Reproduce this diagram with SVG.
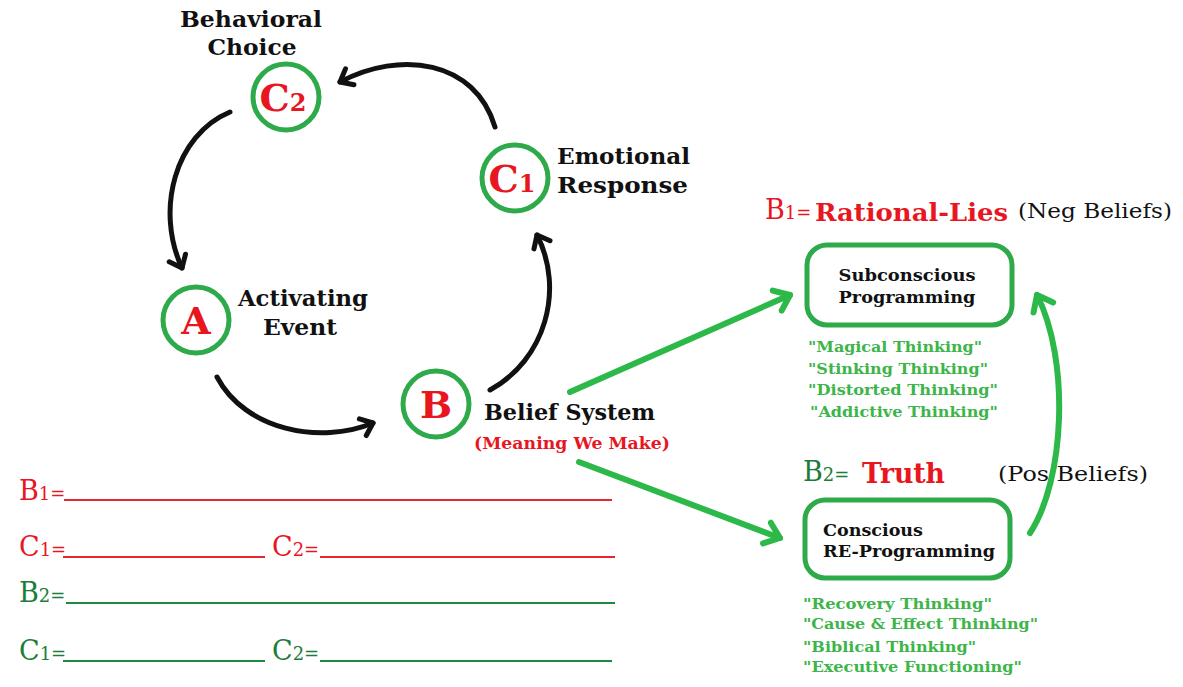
<svg xmlns="http://www.w3.org/2000/svg" width="1183" height="687" viewBox="0 0 1183 687">
<style>
.circ{fill:#fff;stroke:#2eaa4a;stroke-width:5}
.box{fill:#fff;stroke:#2eaa4a;stroke-width:5}
.let{font-family:"DejaVu Serif","Liberation Serif",serif;font-weight:bold;fill:#e8161f;text-anchor:middle}
.hd{font-family:"DejaVu Serif","Liberation Serif",serif;font-weight:bold;fill:#e8161f}
.lbl{font-family:"DejaVu Serif","Liberation Serif",serif;font-weight:bold;fill:#111;font-size:22.5px}
.boxt{font-family:"DejaVu Serif","Liberation Serif",serif;font-weight:bold;fill:#111;font-size:17.5px}
.lst{font-family:"DejaVu Serif","Liberation Serif",serif;font-weight:bold;fill:#3db54a;font-size:15px}
.reg{font-family:"DejaVu Serif","Liberation Serif",serif}
.red{fill:#e8161f}
.dg{fill:#1c7d3a}
.blk{fill:#111}
.mid{text-anchor:middle}
.blkarc{fill:none;stroke:#111;stroke-width:5;stroke-linecap:round}
.grn{fill:none;stroke:#2db84a;stroke-width:6;stroke-linecap:round}
.lnr{stroke:#e8262e;stroke-width:2}
.lng{stroke:#1c8a40;stroke-width:2}
</style>
<defs>
<marker id="ab" markerUnits="userSpaceOnUse" markerWidth="30" markerHeight="30" refX="15" refY="15" orient="auto">
<path d="M4 6 L15 15 L4 24" fill="none" stroke="#111" stroke-width="5" stroke-linecap="round" stroke-linejoin="round"/>
</marker>
<marker id="ag" markerUnits="userSpaceOnUse" markerWidth="34" markerHeight="34" refX="17" refY="17" orient="auto">
<path d="M3 6 L17 17 L3 28" fill="none" stroke="#2db84a" stroke-width="6" stroke-linecap="round" stroke-linejoin="round"/>
</marker>
</defs>
<rect width="1183" height="687" fill="#fff"/>

<g id="connectors">
<path class="blkarc" d="M495 127 C475 60 400 50 340 82" marker-end="url(#ab)"/>
<path class="blkarc" d="M230 112 C175 135 155 210 182 268" marker-end="url(#ab)"/>
<path class="blkarc" d="M217 377 C245 430 320 445 373 423" marker-end="url(#ab)"/>
<path class="blkarc" d="M490 390 C545 360 565 290 537 235" marker-end="url(#ab)"/>
<path class="grn" d="M570 392 L790 295" marker-end="url(#ag)"/>
<path class="grn" d="M579 462 L780 538" marker-end="url(#ag)"/>
<path class="grn" d="M1030 533 C1065 480 1070 360 1037 295" marker-end="url(#ag)"/>
</g>

<g id="node-C2">
<circle class="circ" cx="286" cy="97" r="33"/>
<text class="let" x="283" y="111" font-size="38">C<tspan font-size="24">2</tspan></text>
<text class="lbl mid" x="251" y="27" textLength="142" lengthAdjust="spacingAndGlyphs">Behavioral</text>
<text class="lbl mid" x="252" y="55" textLength="89" lengthAdjust="spacingAndGlyphs">Choice</text>
</g>

<g id="node-C1">
<circle class="circ" cx="515" cy="178" r="33"/>
<text class="let" x="512" y="192" font-size="38">C<tspan font-size="24">1</tspan></text>
<text class="lbl" x="557" y="164" textLength="133" lengthAdjust="spacingAndGlyphs">Emotional</text>
<text class="lbl" x="557" y="193" textLength="131" lengthAdjust="spacingAndGlyphs">Response</text>
</g>

<g id="node-A">
<circle class="circ" cx="196" cy="320" r="33"/>
<text class="let" x="196" y="334" font-size="38">A</text>
<text class="lbl" x="238" y="306" textLength="130" lengthAdjust="spacingAndGlyphs">Activating</text>
<text class="lbl mid" x="300" y="335" textLength="74" lengthAdjust="spacingAndGlyphs">Event</text>
</g>

<g id="node-B">
<circle class="circ" cx="436" cy="404" r="33"/>
<text class="let" x="436" y="418" font-size="38">B</text>
<text class="lbl" x="484" y="420" textLength="171" lengthAdjust="spacingAndGlyphs">Belief System</text>
<text class="lbl red" x="474" y="449" font-size="16" style="font-size:16px" textLength="196" lengthAdjust="spacingAndGlyphs">(Meaning We Make)</text>
</g>

<g id="node-subconscious">
<text class="reg red" x="765" y="219" font-size="27">B<tspan font-size="18">1=</tspan></text>
<text class="hd" x="815" y="221" font-size="25" textLength="193" lengthAdjust="spacingAndGlyphs">Rational-Lies</text>
<text class="reg blk" x="1018" y="218" font-size="20" textLength="154" lengthAdjust="spacingAndGlyphs">(Neg Beliefs)</text>
<rect class="box" x="807" y="245" width="205" height="80" rx="20"/>
<text class="boxt mid" x="907" y="281" textLength="137" lengthAdjust="spacingAndGlyphs">Subconscious</text>
<text class="boxt mid" x="907" y="303" textLength="137" lengthAdjust="spacingAndGlyphs">Programming</text>
<text class="lst" x="808" y="352" textLength="174" lengthAdjust="spacingAndGlyphs">"Magical Thinking"</text>
<text class="lst" x="808" y="374" textLength="180" lengthAdjust="spacingAndGlyphs">"Stinking Thinking"</text>
<text class="lst" x="808" y="395" textLength="190" lengthAdjust="spacingAndGlyphs">"Distorted Thinking"</text>
<text class="lst" x="810" y="417" textLength="188" lengthAdjust="spacingAndGlyphs">"Addictive Thinking"</text>
</g>

<g id="node-conscious">
<text class="reg dg" x="803" y="481" font-size="27">B<tspan font-size="18">2=</tspan></text>
<text class="hd" x="862" y="483" font-size="27" textLength="83" lengthAdjust="spacingAndGlyphs">Truth</text>
<text class="reg blk" x="998" y="481" font-size="20" textLength="150" lengthAdjust="spacingAndGlyphs">(Pos Beliefs)</text>
<rect class="box" x="805" y="500" width="205" height="78" rx="20"/>
<text class="boxt" x="823" y="536" textLength="100" lengthAdjust="spacingAndGlyphs">Conscious</text>
<text class="boxt" x="823" y="557" textLength="172" lengthAdjust="spacingAndGlyphs">RE-Programming</text>
<text class="lst" x="803" y="609" textLength="189" lengthAdjust="spacingAndGlyphs">"Recovery Thinking"</text>
<text class="lst" x="803" y="629" textLength="235" lengthAdjust="spacingAndGlyphs">"Cause &amp; Effect Thinking"</text>
<text class="lst" x="803" y="652" textLength="173" lengthAdjust="spacingAndGlyphs">"Biblical Thinking"</text>
<text class="lst" x="803" y="672" textLength="219" lengthAdjust="spacingAndGlyphs">"Executive Functioning"</text>
</g>

<g id="worksheet">
<text class="reg red" x="19" y="500" font-size="27">B<tspan font-size="18">1=</tspan></text>
<line class="lnr" x1="64" y1="500" x2="612" y2="500"/>
<text class="reg red" x="19" y="556" font-size="27">C<tspan font-size="18">1=</tspan></text>
<line class="lnr" x1="63" y1="557" x2="265" y2="557"/>
<text class="reg red" x="272" y="556" font-size="27">C<tspan font-size="18">2=</tspan></text>
<line class="lnr" x1="320" y1="557" x2="615" y2="557"/>
<text class="reg dg" x="19" y="602" font-size="27">B<tspan font-size="18">2=</tspan></text>
<line class="lng" x1="66" y1="603" x2="615" y2="603"/>
<text class="reg dg" x="19" y="660" font-size="27">C<tspan font-size="18">1=</tspan></text>
<line class="lng" x1="63" y1="661" x2="265" y2="661"/>
<text class="reg dg" x="272" y="660" font-size="27">C<tspan font-size="18">2=</tspan></text>
<line class="lng" x1="320" y1="661" x2="612" y2="661"/>
</g>
</svg>
